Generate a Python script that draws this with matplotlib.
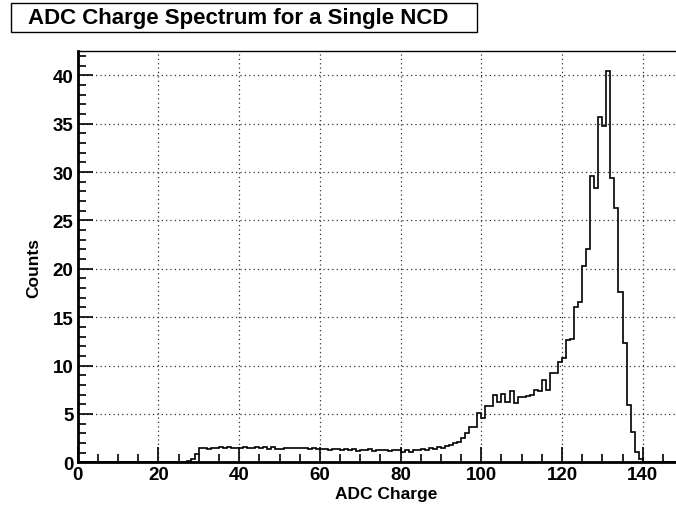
import matplotlib.pyplot as plt
from matplotlib.patches import Rectangle
from matplotlib.ticker import MultipleLocator
import numpy as np

plt.rcParams['font.family'] = ['Liberation Sans', 'DejaVu Sans']
plt.rcParams['font.weight'] = 'bold'

# ADC channel bins 0..150, one channel wide
bin_edges = np.arange(0, 151)
counts = [0.0] * 26 + [
    0.02, 0.1, 0.3, 0.9, 1.45, 1.45, 1.4, 1.5, 1.45, 1.6,      # 26-35
    1.5, 1.55, 1.45, 1.5, 1.45, 1.55, 1.45, 1.5, 1.6, 1.45,     # 36-45
    1.55, 1.4, 1.6, 1.35, 1.4, 1.45, 1.45, 1.5, 1.5, 1.45,      # 46-55
    1.45, 1.4, 1.45, 1.35, 1.4, 1.35, 1.3, 1.35, 1.4, 1.3,      # 56-65
    1.35, 1.25, 1.35, 1.2, 1.3, 1.25, 1.35, 1.2, 1.3, 1.25,     # 66-75
    1.3, 1.2, 1.25, 1.25, 1.05, 1.25, 1.1, 1.3, 1.25, 1.35,     # 76-85
    1.3, 1.45, 1.4, 1.55, 1.5, 1.7, 1.75, 2.0, 2.1, 2.5,        # 86-95
    3.0, 3.6, 3.6, 5.05, 4.55, 5.8, 5.8, 7.0, 6.2, 7.1,         # 96-105
    6.2, 7.4, 6.1, 6.7, 6.7, 6.8, 7.0, 7.5, 7.4, 8.5,           # 106-115
    7.5, 9.2, 9.2, 10.4, 10.8, 12.6, 12.7, 16.1, 16.6, 20.3,    # 116-125
    22.0, 29.6, 28.3, 35.7, 34.8, 40.45, 29.4, 26.3, 17.6, 12.3,  # 126-135
    5.9, 3.1, 1.1, 0.35,                                        # 136-139
] + [0.0] * 10

fig = plt.figure(figsize=(6.76, 5.10), dpi=100)
ax = fig.add_axes([0.115, 0.0916, 0.8954, 0.8057])

ax.stairs(counts, bin_edges, color='black', linewidth=1.2)

ax.set_xlim(0, 150)
ax.set_ylim(0, max(counts) * 1.05)
ax.xaxis.set_major_locator(MultipleLocator(20))
ax.xaxis.set_minor_locator(MultipleLocator(5))
ax.yaxis.set_major_locator(MultipleLocator(5))
ax.yaxis.set_minor_locator(MultipleLocator(1))
ax.tick_params(which='both', direction='in', top=False, right=False,
               labelsize=13.5, width=1.2, pad=3)
ax.tick_params(which='major', length=11)
ax.tick_params(which='minor', length=5.5)
for lbl in ax.get_xticklabels() + ax.get_yticklabels():
    lbl.set_fontweight('bold')

ax.grid(True, which='major', color='#333333', linestyle=(0, (1, 2.5)), linewidth=0.9)
ax.set_axisbelow(True)
for side in ['left', 'bottom']:
    ax.spines[side].set_linewidth(2)
for side in ['top', 'right']:
    ax.spines[side].set_linewidth(1)

fig.text(0.572, 0.022, 'ADC Charge', fontsize=12.5, fontweight='bold', ha='center')
fig.text(0.050, 0.475, 'Counts', fontsize=12.5, fontweight='bold', rotation=90,
         ha='center', va='center')

# title box in the top-left corner
fig.patches.append(Rectangle((11 / 676, 1 - 33 / 510), 466 / 676, 29 / 510,
                             transform=fig.transFigure, facecolor='white',
                             edgecolor='black', linewidth=1))
fig.text(28 / 676, 1 - 18.5 / 510, 'ADC Charge Spectrum for a Single NCD',
         fontsize=16, fontweight='bold', va='center', ha='left')

plt.savefig('out.png', dpi=100)
